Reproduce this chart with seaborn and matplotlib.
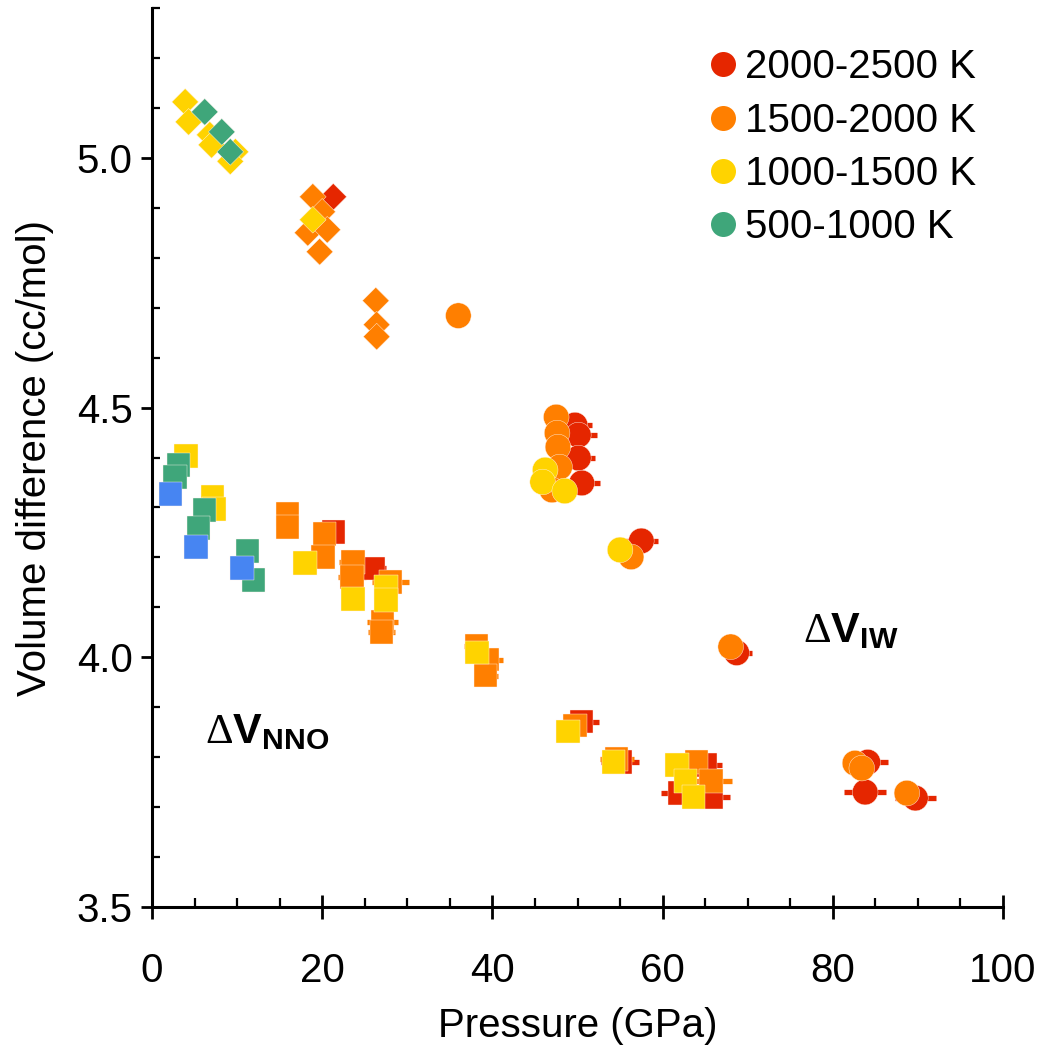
import numpy as np
import pandas as pd
import matplotlib
matplotlib.use("Agg")
import matplotlib.pyplot as plt
from matplotlib.lines import Line2D
from matplotlib.ticker import MultipleLocator, FormatStrFormatter
import seaborn as sns

sns.set_theme(style="ticks")
plt.rcParams["font.family"] = ["Liberation Sans", "DejaVu Sans"]
plt.rcParams["mathtext.fontset"] = "custom"
plt.rcParams["mathtext.rm"] = "Liberation Serif"
plt.rcParams["mathtext.bf"] = "Liberation Sans:bold"
for key in ("text.color", "axes.labelcolor", "xtick.color", "ytick.color",
            "axes.edgecolor"):
    plt.rcParams[key] = "black"

groups = ["2000-2500 K", "1500-2000 K", "1000-1500 K", "500-1000 K", "<500 K"]
colors = ["#E52600", "#FF7F00", "#FFD300", "#3FA67A", "#4785F2"]

# Diamonds: ΔV_IW, low-pressure points
dia_p = {
    "2000-2500 K": [21.3],
    "1500-2000 K": [18.9, 20.0, 18.3, 20.6, 19.7, 26.3, 26.4, 26.4],
    "1000-1500 K": [3.9, 4.3, 6.8, 7.0, 9.8, 9.2, 18.9],
    "500-1000 K": [6.2, 8.2, 9.2],
}
dia_v = {
    "2000-2500 K": [4.922],
    "1500-2000 K": [4.922, 4.892, 4.850, 4.856, 4.812, 4.714, 4.666, 4.642],
    "1000-1500 K": [5.112, 5.072, 5.046, 5.026, 5.012, 4.993, 4.876],
    "500-1000 K": [5.092, 5.052, 5.012],
}

# Circles: ΔV_IW, high-pressure points
circ_p = {
    "2000-2500 K": [49.7, 50.1, 50.1, 50.5, 57.5, 68.7, 84.1, 83.8, 89.7],
    "1500-2000 K": [36.0, 47.5, 47.6, 47.7, 47.9, 47.0, 56.3, 68.0, 82.6, 83.4, 88.7],
    "1000-1500 K": [46.2, 45.9, 48.5, 55.0],
}
circ_v = {
    "2000-2500 K": [4.465, 4.445, 4.399, 4.349, 4.233, 4.009, 3.790, 3.730, 3.718],
    "1500-2000 K": [4.684, 4.481, 4.449, 4.421, 4.381, 4.335, 4.201, 4.021, 3.788, 3.778, 3.728],
    "1000-1500 K": [4.375, 4.351, 4.333, 4.215],
}
circ_err = {
    "2000-2500 K": [2.0, 2.2, 2.0, 2.2, 2.0, 1.8, 2.4, 2.5, 2.4],
    "1500-2000 K": [0.0, 1.0, 1.0, 0.8, 0.8, 0.0, 0.0, 0.0, 0.0, 1.0, 1.0],
    "1000-1500 K": [0.0, 0.0, 0.0, 0.0],
}

# Squares: ΔV_NNO
sq_p = {
    "2000-2500 K": [21.3, 26.0, 50.5, 55.0, 65.0, 62.0, 65.7],
    "1500-2000 K": [15.9, 15.9, 20.3, 20.1, 23.6, 23.5, 28.0, 27.1, 27.0,
                    38.1, 39.4, 39.2, 49.7, 54.6, 64.0, 65.7],
    "1000-1500 K": [4.0, 7.1, 7.3, 18.0, 23.6, 27.5, 27.5, 38.2, 48.9,
                    54.2, 61.7, 62.7, 63.6],
    "500-1000 K": [3.1, 2.7, 6.2, 5.5, 11.2, 11.9],
    "<500 K": [2.2, 5.2, 10.6],
}
sq_v = {
    "2000-2500 K": [4.251, 4.178, 3.871, 3.790, 3.784, 3.728, 3.720],
    "1500-2000 K": [4.287, 4.261, 4.247, 4.201, 4.191, 4.161, 4.151, 4.071, 4.051,
                    4.023, 3.995, 3.963, 3.863, 3.796, 3.790, 3.752],
    "1000-1500 K": [4.403, 4.321, 4.297, 4.189, 4.117, 4.141, 4.115, 4.009, 3.851,
                    3.790, 3.784, 3.752, 3.720],
    "500-1000 K": [4.385, 4.361, 4.295, 4.259, 4.213, 4.155],
    "<500 K": [4.327, 4.221, 4.179],
}
sq_err = {
    "2000-2500 K": [1.0, 1.5, 2.0, 2.2, 2.0, 2.2, 2.2],
    "1500-2000 K": [0.0, 0.0, 0.0, 0.0, 1.6, 1.6, 2.2, 1.8, 1.6,
                    1.4, 1.8, 1.4, 0.0, 2.0, 1.5, 2.5],
    "1000-1500 K": [0.0] * 13,
    "500-1000 K": [0.0] * 6,
    "<500 K": [0.0] * 3,
}


def frame(p, v, err=None):
    rows = []
    for g in groups:
        if g not in p:
            continue
        e = err[g] if err is not None else [0.0] * len(p[g])
        for x, y, xe in zip(p[g], v[g], e):
            rows.append({"P": x, "V": y, "T": g, "xerr": xe})
    return pd.DataFrame(rows)


dia = frame(dia_p, dia_v)
circ = frame(circ_p, circ_v, circ_err)
sq = frame(sq_p, sq_v, sq_err)
palette = dict(zip(groups, colors))

fig = plt.figure(figsize=(10.43, 10.55), dpi=100)
ax = fig.add_axes([0.1457, 0.1403, 0.8160, 0.8521])

# horizontal pressure uncertainties, drawn beneath the markers
for df in (circ, sq):
    for g in groups:
        sub = df[(df["T"] == g) & (df["xerr"] > 0)]
        if len(sub):
            ax.errorbar(sub["P"], sub["V"], xerr=sub["xerr"], fmt="none",
                        ecolor=palette[g], elinewidth=3.8, capsize=0, zorder=1)

for df, mk, s in ((dia, "D", 185), (circ, "o", 340), (sq, "s", 285)):
    sns.scatterplot(data=df, x="P", y="V", hue="T", palette=palette,
                    marker=mk, s=s, linewidth=0.3, edgecolor="#FFF4EC",
                    legend=False, ax=ax, zorder=2)

ax.set_xlim(0, 100)
ax.set_ylim(3.5, 5.3)
ax.xaxis.set_major_locator(MultipleLocator(20))
ax.xaxis.set_minor_locator(MultipleLocator(5))
ax.yaxis.set_major_locator(MultipleLocator(0.5))
ax.yaxis.set_minor_locator(MultipleLocator(0.1))
ax.yaxis.set_major_formatter(FormatStrFormatter("%.1f"))

for side in ("top", "right"):
    ax.spines[side].set_visible(False)
for side in ("left", "bottom"):
    ax.spines[side].set_linewidth(2.2)
    ax.spines[side].set_color("black")

ax.tick_params(axis="x", which="major", direction="inout", length=17, width=2,
               labelsize=29, pad=24, colors="black")
ax.tick_params(axis="x", which="minor", direction="in", length=6.5, width=1.6)
ax.tick_params(axis="y", which="major", direction="out", length=8, width=2,
               labelsize=29, pad=6, colors="black")
ax.tick_params(axis="y", which="minor", direction="in", length=6, width=1.6)

ax.set_xlabel("Pressure (GPa)", fontsize=29, labelpad=12)
ax.set_ylabel("Volume difference (cc/mol)", fontsize=29, labelpad=16)

ax.text(6.2, 3.828, r"$\Delta\mathbf{V}_{\mathbf{NNO}}$", fontsize=31,
        ha="left", va="baseline")
ax.text(76.5, 4.031, r"$\Delta\mathbf{V}_{\mathbf{IW}}$", fontsize=31,
        ha="left", va="baseline")

handles = [Line2D([], [], marker="o", linestyle="none", markersize=18,
                  markerfacecolor=c, markeredgewidth=0)
           for c in colors[:4]]
ax.legend(handles, groups[:4], loc="upper right", frameon=False, fontsize=29,
          handletextpad=0.05, labelspacing=0.38, borderaxespad=0.0,
          handlelength=1.0, bbox_to_anchor=(0.987, 0.973))

fig.savefig("out.png", dpi=100)
